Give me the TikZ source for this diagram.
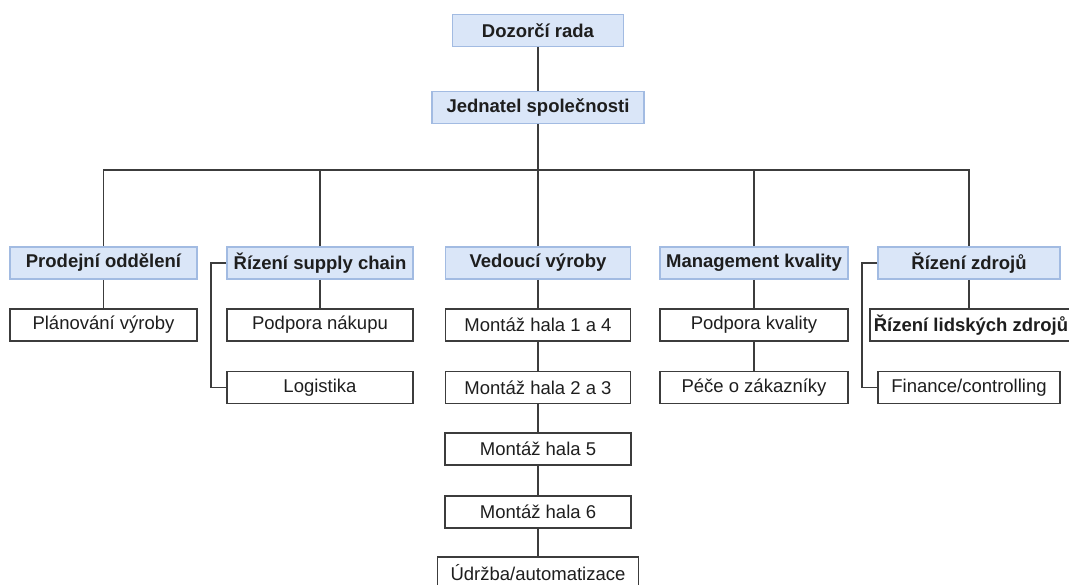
\documentclass[tikz,border=0pt]{standalone}
\usepackage{fontspec}
\setmainfont{Liberation Sans}
\definecolor{bfill}{HTML}{DAE6F8}
\definecolor{bdraw}{HTML}{A2BBE2}
\definecolor{lcol}{HTML}{3C3C3C}
\definecolor{tcol}{HTML}{1E1E1E}
\tikzset{
  base/.style={minimum height=32pt, inner sep=0pt, text=tcol, font=\fontsize{18.5}{20}\selectfont},
  bluebox/.style={base, fill=bfill, draw=bdraw, line width=1.6pt, font=\fontsize{18.5}{20}\selectfont\bfseries},
  whitebox/.style={base, fill=white, draw=lcol, line width=1.6pt},
  conn/.style={draw=lcol, line width=1.6pt}
}
\begin{document}
\begin{tikzpicture}[x=1pt,y=-1pt]
\useasboundingbox (0,0) rectangle (1069,585);
\clip (0,0) rectangle (1069,585);
\fill[white] (0,0) rectangle (1069,585);
% top
\node[bluebox, minimum width=171pt] (d) at (538,30.5) {Dozorčí rada};
\node[bluebox, minimum width=212pt] (j) at (538,107.5) {Jednatel společnosti};
% level 2
\node[bluebox, minimum width=187pt] (p) at (103.5,263) {Prodejní oddělení};
\node[bluebox, minimum width=186pt] (s) at (320,263) {Řízení supply chain};
\node[bluebox, minimum width=185pt] (v) at (538,263) {Vedoucí výroby};
\node[bluebox, minimum width=188pt] (m) at (754,263) {Management kvality};
\node[bluebox, minimum width=182pt] (z) at (969,263) {Řízení zdrojů};
% row 1
\node[whitebox, minimum width=187pt] (pv) at (103.5,325) {Plánování výroby};
\node[whitebox, minimum width=186pt] (pn) at (320,325) {Podpora nákupu};
\node[whitebox, minimum width=185pt] (m14) at (538,325) {Montáž hala 1 a 4};
\node[whitebox, minimum width=188pt] (pk) at (754,325) {Podpora kvality};
\node[whitebox, minimum width=202pt, font=\fontsize{18.5}{20}\selectfont\bfseries] (rlz) at (971,325) {Řízení lidských zdrojů};
% row 2
\node[whitebox, minimum width=186pt] (lg) at (320,387.5) {Logistika};
\node[whitebox, minimum width=185pt] (m23) at (538,387.5) {Montáž hala 2 a 3};
\node[whitebox, minimum width=188pt] (pz) at (754,387.5) {Péče o zákazníky};
\node[whitebox, minimum width=182pt] (fc) at (969,387.5) {Finance/controlling};
% production column
\node[whitebox, minimum width=186pt] (m5) at (538,449) {Montáž hala 5};
\node[whitebox, minimum width=186pt] (m6) at (538,512) {Montáž hala 6};
\node[whitebox, minimum width=201pt] (ua) at (538,573) {Údržba/automatizace};
% connectors
\coordinate (bus) at (538,170);
\draw[conn] (d.south) -- (j.north);
\draw[conn] (j.south) -- (bus);
\draw[conn] (p.north) |- (bus) -| (z.north);
\draw[conn] (s.north) -- (s.north |- bus);
\draw[conn] (v.north) -- (v.north |- bus);
\draw[conn] (m.north) -- (m.north |- bus);
\draw[conn] (p.south) -- (pv.north);
\draw[conn] (s.south) -- (pn.north);
\draw[conn] (v.south) -- (m14.north);
\draw[conn] (m14.south) -- (m23.north);
\draw[conn] (m23.south) -- (m5.north);
\draw[conn] (m5.south) -- (m6.north);
\draw[conn] (m6.south) -- (ua.north);
\draw[conn] (m.south) -- (pk.north);
\draw[conn] (pk.south) -- (pz.north);
\draw[conn] (z.south) -- (z.south |- rlz.north);
\draw[conn] (s.west) -- ++(-15,0) |- (lg.west);
\draw[conn] (z.west) -- ++(-15,0) |- (fc.west);
\end{tikzpicture}
\end{document}
